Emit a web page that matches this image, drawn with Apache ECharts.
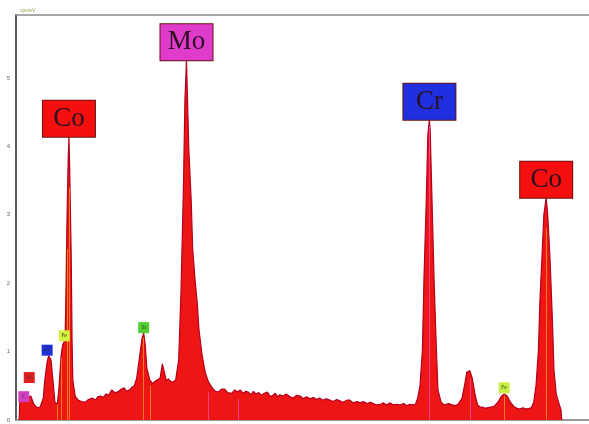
<!DOCTYPE html>
<html>
<head>
<meta charset="utf-8">
<script src="https://cdn.jsdelivr.net/npm/echarts@6/dist/echarts.min.js"></script>
<style>
  html, body { margin: 0; padding: 0; background: #fff; }
  #chart { width: 589px; height: 424px; }
</style>
</head>
<body>
<div id="chart"></div>
<script>
// EDS spectrum: energy (keV) vs intensity (cps/eV)
const energy = [
  0.14, 0.15, 0.18, 0.22, 0.25, 0.29, 0.33, 0.37, 0.41, 0.45, 0.47, 0.50, 0.52, 0.55, 0.58,
  0.60, 0.63, 0.65, 0.68, 0.70, 0.73, 0.74, 0.755, 0.77, 0.78, 0.79, 0.81, 0.82, 0.83, 0.86,
  0.90, 0.94, 0.99, 1.03, 1.08, 1.12, 1.15, 1.18, 1.22, 1.26, 1.29, 1.33, 1.37, 1.41, 1.45,
  1.49, 1.52, 1.56, 1.59, 1.62, 1.65, 1.69, 1.72, 1.74, 1.76, 1.78,
  1.82, 1.86, 1.89, 1.91, 1.95, 1.98, 2.00, 2.03, 2.06, 2.08, 2.11, 2.13, 2.15, 2.17,
  2.19, 2.22, 2.25, 2.27, 2.29, 2.30, 2.32, 2.35, 2.37, 2.40, 2.43, 2.45, 2.49, 2.53, 2.57,
  2.62, 2.66, 2.70, 2.74, 2.78, 2.82, 2.87, 2.91, 2.95, 2.98, 3.02, 3.05, 3.08, 3.12, 3.15,
  3.18, 3.22, 3.25, 3.29, 3.33, 3.36, 3.39, 3.43, 3.46, 3.49, 3.53, 3.57, 3.62, 3.66, 3.70,
  3.75, 3.79, 3.83, 3.88, 3.92, 3.96, 4.00, 4.04, 4.09, 4.13, 4.17, 4.22, 4.26, 4.30, 4.35,
  4.39, 4.43, 4.48, 4.52, 4.56, 4.61, 4.65, 4.69, 4.73, 4.78, 4.82, 4.86, 4.90, 4.95, 4.99,
  5.03, 5.08, 5.12, 5.16, 5.20, 5.23, 5.26, 5.29, 5.32, 5.34, 5.37, 5.39, 5.41, 5.42, 5.44,
  5.47, 5.50, 5.52, 5.56, 5.60, 5.62, 5.66, 5.70, 5.74, 5.78, 5.83, 5.87, 5.89, 5.93, 5.96,
  6.00, 6.03, 6.06, 6.09, 6.13, 6.16, 6.20, 6.24, 6.29, 6.33, 6.37, 6.41, 6.45, 6.50, 6.54,
  6.57, 6.61, 6.65, 6.69, 6.72, 6.75, 6.78, 6.81, 6.83, 6.86, 6.88, 6.91, 6.93, 6.96, 6.99,
  7.01, 7.04, 7.08, 7.10, 7.11
];
const counts = [
  0.00, 0.29, 0.35, 0.38, 0.32, 0.35, 0.23, 0.18, 0.19, 0.32, 0.58, 0.85, 0.94, 0.88, 0.51,
  0.26, 0.23, 0.44, 0.95, 1.10, 1.17, 1.75, 2.92, 3.80, 4.14, 3.65, 2.34, 1.17, 0.58, 0.35,
  0.29, 0.27, 0.26, 0.30, 0.32, 0.29, 0.34, 0.35, 0.33, 0.38, 0.36, 0.44, 0.40, 0.41, 0.45,
  0.47, 0.42, 0.44, 0.48, 0.50, 0.61, 0.95, 1.20, 1.27, 1.10, 0.76,
  0.58, 0.53, 0.57, 0.56, 0.61, 0.82, 0.73, 0.58, 0.60, 0.57, 0.55, 0.54, 0.58, 0.58,
  0.88, 1.90, 3.36, 4.68, 5.26, 4.82, 3.95, 3.22, 2.49, 2.05, 1.68, 1.32, 0.95, 0.70, 0.56,
  0.47, 0.42, 0.41, 0.45, 0.45, 0.40, 0.39, 0.44, 0.41, 0.44, 0.39, 0.42, 0.41, 0.37, 0.42,
  0.38, 0.40, 0.36, 0.39, 0.41, 0.35, 0.35, 0.39, 0.34, 0.37, 0.35, 0.38, 0.34, 0.32, 0.36,
  0.35, 0.31, 0.34, 0.31, 0.33, 0.30, 0.32, 0.29, 0.31, 0.29, 0.27, 0.30, 0.28, 0.26, 0.29,
  0.29, 0.25, 0.27, 0.25, 0.27, 0.24, 0.26, 0.24, 0.22, 0.23, 0.25, 0.22, 0.25, 0.22, 0.23,
  0.22, 0.24, 0.21, 0.23, 0.22, 0.23, 0.32, 0.51, 1.02, 2.05, 3.22, 4.17, 4.39, 4.24, 3.36,
  2.05, 1.02, 0.44, 0.26, 0.22, 0.23, 0.24, 0.22, 0.21, 0.23, 0.32, 0.56, 0.70, 0.72, 0.61,
  0.35, 0.22, 0.19, 0.19, 0.17, 0.18, 0.19, 0.20, 0.26, 0.34, 0.38, 0.35, 0.26, 0.19, 0.17,
  0.16, 0.18, 0.16, 0.17, 0.18, 0.26, 0.51, 1.02, 1.75, 2.49, 3.00, 3.25, 3.00, 2.34, 1.46,
  0.73, 0.37, 0.22, 0.15, 0.00
];

// Element tags: large boxes for the main peaks, small boxes for minor lines
const majorNames  = ['Co', 'Mo', 'Cr', 'Co'];
const majorEnergy = [0.78, 2.29, 5.41, 6.91];
const majorHeight = [4.14, 5.26, 4.39, 3.25];
const majorColor  = ['#f50f0f', '#e03ccc', '#1f2fe0', '#f50f0f'];

const minorNames  = ['C', 'O', 'Cr', 'Fe', 'Si', 'Fe'];
const minorEnergy = [0.20, 0.27, 0.50, 0.72, 1.74, 6.37];
const minorHeight = [0.26, 0.54, 0.94, 1.15, 1.27, 0.39];
const minorColor  = ['#d040c0', '#e02020', '#2030d8', '#d8f040', '#50d030', '#c8f040'];

// Thin line markers drawn inside the peaks
const markerEnergy = [0.63, 0.68, 0.755, 0.79, 1.74, 1.82, 2.57, 2.95, 5.41, 5.93, 6.37, 6.91];
const markerHeight = [0.23, 0.90, 2.50, 3.40, 1.20, 0.50, 0.40, 0.30, 4.30, 0.60, 0.36, 2.80];
const markerColor  = ['#f5a020', '#f5a020', '#f5a020', '#f5a020', '#f5a020', '#f5a020',
                      '#ff4fb0', '#ff4fb0', '#ff4fb0', '#ff4fb0', '#f5a020', '#f5a020'];

const yTicks = [0, 1, 2, 3, 4, 5];

const spectrum = energy.map((e, i) => [e, counts[i]]);

const majorPoints = majorNames.map((n, i) => ({
  name: n,
  coord: [majorEnergy[i], majorHeight[i]],
  symbolSize: 0,
  label: {
    show: true,
    position: 'top',
    distance: 0,
    formatter: n,
    fontFamily: '"Liberation Serif", "DejaVu Serif", serif',
    fontSize: 27,
    lineHeight: 30,
    width: 34,
    align: 'center',
    color: '#2a1020',
    backgroundColor: majorColor[i],
    borderColor: '#6a1010',
    borderWidth: 1,
    padding: [3, 9, 3, 9]
  }
}));

const minorPoints = minorNames.map((n, i) => ({
  name: n,
  coord: [minorEnergy[i], minorHeight[i]],
  symbolSize: 0,
  label: {
    show: true,
    position: 'top',
    distance: 0,
    formatter: n,
    fontFamily: 'DejaVu Sans, sans-serif',
    fontSize: 5,
    lineHeight: 7,
    width: 7,
    align: 'center',
    color: '#303030',
    backgroundColor: minorColor[i],
    padding: [2, 2, 2, 2]
  }
}));

const markerLines = markerEnergy.map((e, i) => [
  { coord: [e, 0], lineStyle: { color: markerColor[i] } },
  { coord: [e, markerHeight[i]] }
]);

const chart = echarts.init(document.getElementById('chart'), null, { renderer: 'canvas' });

chart.setOption({
  animation: false,
  backgroundColor: '#ffffff',
  grid: { left: 16, right: 0, top: 15, bottom: 4, containLabel: false },
  xAxis: [
    {
      type: 'value',
      min: 0.1,
      max: 7.46,
      axisLine: { show: true, onZero: false, lineStyle: { color: '#9a9a9a', width: 2 } },
      axisTick: { show: false },
      axisLabel: { show: false },
      splitLine: { show: false }
    },
    {
      type: 'value',
      position: 'top',
      min: 0.1,
      max: 7.46,
      axisLine: { show: true, onZero: false, lineStyle: { color: '#8a8a8a', width: 1.5 } },
      axisTick: { show: false },
      axisLabel: { show: false },
      splitLine: { show: false }
    }
  ],
  yAxis: {
    type: 'value',
    min: 0,
    max: 5.92,
    interval: 1,
    name: 'cps/eV',
    nameLocation: 'end',
    nameGap: 2,
    nameTextStyle: { fontSize: 5, color: '#9c9c4a', align: 'left', padding: [0, 0, 0, 4] },
    axisLine: { show: true, lineStyle: { color: '#5a5a5a', width: 2 } },
    axisTick: { show: false },
    axisLabel: {
      show: true,
      fontSize: 6,
      color: '#666666',
      margin: 6,
      showMaxLabel: false,
      formatter: v => (yTicks.includes(v) ? String(v) : '')
    },
    splitLine: { show: false }
  },
  series: [
    {
      type: 'line',
      data: spectrum,
      showSymbol: false,
      symbol: 'none',
      sampling: null,
      lineStyle: { color: '#b3001c', width: 1.2 },
      areaStyle: { color: '#ee1515', opacity: 1 },
      z: 2,
      markLine: {
        silent: true,
        symbol: 'none',
        label: { show: false },
        lineStyle: { width: 1, type: 'solid', opacity: 0.75 },
        data: markerLines
      },
      markPoint: {
        silent: true,
        data: majorPoints.concat(minorPoints)
      }
    }
  ]
});
</script>
</body>
</html>
